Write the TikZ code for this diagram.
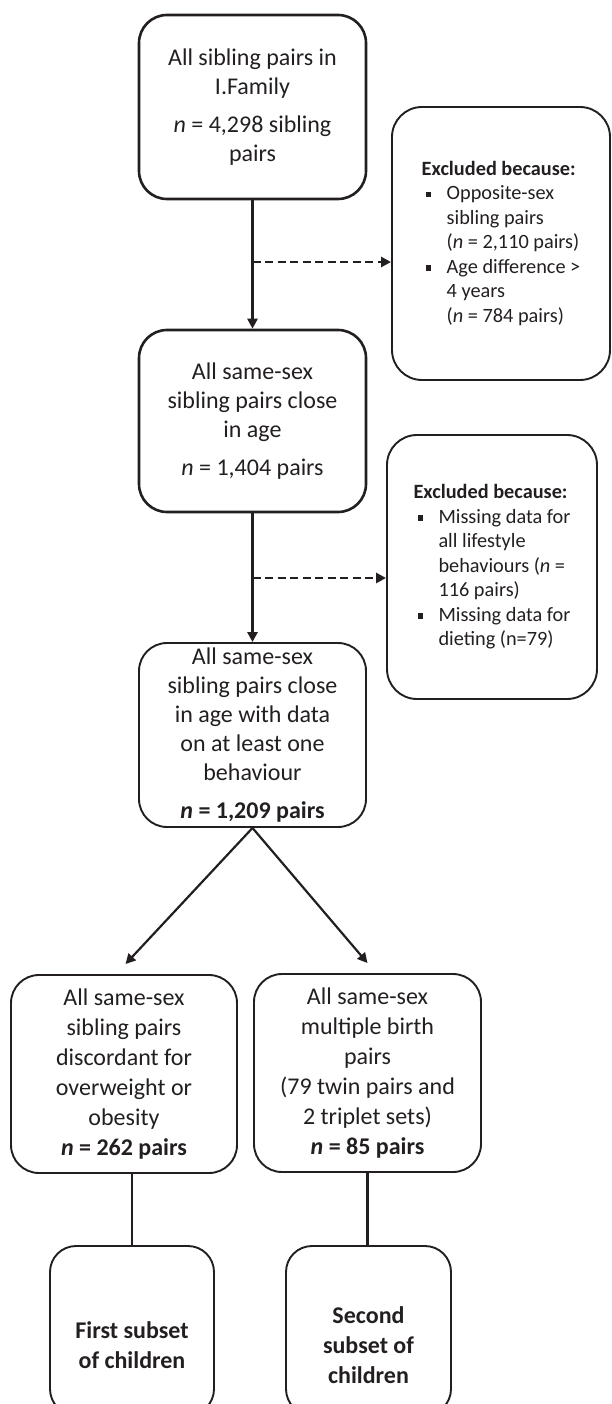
\documentclass[tikz,border=0pt]{standalone}
\usepackage{fontspec}
\setmainfont{Carlito}
\usetikzlibrary{arrows.meta}
\definecolor{ink}{HTML}{231F20}
\newcommand{\sqbul}{\makebox[25pt][l]{\hspace{4pt}\rule[2.5pt]{5.5pt}{5.5pt}}}
\newcommand{\sqind}{\hspace*{25pt}}

\begin{document}
\begin{tikzpicture}[x=1pt,y=-1pt]
\tikzset{
  flowbox/.style={rectangle,rounded corners=28pt,draw=ink,line width=2.6pt,align=center,inner sep=0pt,font=\fontsize{24}{29}\selectfont,text=ink},
  flowboxthin/.style={flowbox,line width=1.9pt},
  subsetbox/.style={flowboxthin,rounded corners=26pt},
  subsettext/.style={align=center,inner sep=0pt,font=\fontsize{24}{30}\selectfont\bfseries,text=ink},
  exclbox/.style={rectangle,rounded corners=30pt,draw=ink,line width=1.9pt,align=left,inner sep=0pt,font=\fontsize{20.3}{24.5}\selectfont,text=ink},
  flowedge/.style={draw=ink,line width=2.5pt},
  solidarrow/.style={flowedge,-{Triangle[length=10pt,width=10pt]}},
  dashedarrow/.style={solidarrow,dash pattern=on 8pt off 4.5pt}
}
\useasboundingbox (0,0) rectangle (612,1404);
% main column
\node[flowbox,minimum width=227pt,minimum height=184pt] (n_all) at (252.5,107)
  {All sibling pairs in\\I.Family\\[9pt]\textit{n} = 4,298 sibling\\pairs};
\node[flowbox,minimum width=227pt,minimum height=182pt] (n_samesex) at (252.5,421)
  {All same-sex\\sibling pairs close\\in age\\[9pt]\textit{n} = 1,404 pairs};
\node[flowboxthin,minimum width=227pt,minimum height=184pt] (n_withdata) at (252.5,735)
  {All same-sex\\sibling pairs close\\in age with data\\on at least one\\behaviour\\[9pt]\textbf{\textit{n} = 1,209 pairs}};
% exclusions
\node[exclbox,minimum width=218pt,minimum height=273pt] (n_excl_a) at (501,243.5)
  {\textbf{Excluded because:}\\\sqbul Opposite-sex\\\sqind sibling pairs\\\sqind(\textit{n} = 2,110 pairs)\\\sqbul Age difference >\\\sqind 4 years\\\sqind(\textit{n} = 784 pairs)};
\node[exclbox,minimum width=210pt,minimum height=264pt] (n_excl_b) at (492,567)
  {\textbf{Excluded because:}\\\sqbul Missing data for\\\sqind all lifestyle\\\sqind behaviours (\textit{n} =\\\sqind 116 pairs)\\\sqbul Missing data for\\\sqind dieting (n=79)};
% two branches
\node[flowboxthin,minimum width=226pt,minimum height=198pt,font=\fontsize{24}{30}\selectfont] (n_discord) at (124,1074)
  {All same-sex\\sibling pairs\\discordant for\\overweight or\\obesity\\\textbf{\textit{n} = 262 pairs}};
\node[flowboxthin,minimum width=227pt,minimum height=198pt,font=\fontsize{24}{30}\selectfont] (n_multi) at (367.5,1073)
  {All same-sex\\multiple birth\\pairs\\(79 twin pairs and\\2 triplet sets)\\\textbf{\textit{n} = 85 pairs}};
\node[subsetbox,minimum width=164pt,minimum height=169pt] (n_first) at (132,1330.5) {};
\node[subsetbox,minimum width=165pt,minimum height=169pt] (n_second) at (368.5,1330.5) {};
\node[subsettext] (t_first) at ([yshift=-14.5pt]n_first.center) {First subset\\of children};
\node[subsettext] (t_second) at ([yshift=-14.5pt]n_second.center) {Second\\subset of\\children};
% connectors
\coordinate (split_a) at (252.5,262);
\coordinate (split_b) at (252.5,578);
\draw[solidarrow] (n_all) -- (n_samesex);
\draw[solidarrow] (n_samesex) -- (n_withdata);
\draw[dashedarrow] (split_a) -- (split_a -| n_excl_a.west);
\draw[dashedarrow] (split_b) -- (split_b -| n_excl_b.west);
\draw[solidarrow,line width=2.2pt] (n_withdata.south) -- ([xshift=1.5pt,yshift=10pt]n_discord.north);
\draw[solidarrow,line width=2.2pt] (n_withdata.south) -- ([yshift=10pt]n_multi.north);
\draw[flowedge,line width=2.2pt] (n_first.north |- n_discord.south) -- (n_first.north);
\draw[flowedge,line width=2.2pt] (n_multi.south) -- (n_multi.south |- n_second.north);
\end{tikzpicture}
\end{document}
